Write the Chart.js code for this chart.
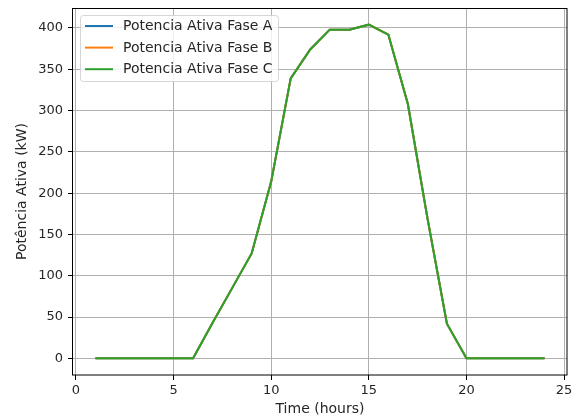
<!DOCTYPE html>
<html>
<head>
<meta charset="utf-8">
<script src="https://cdn.jsdelivr.net/npm/chart.js@4"></script>
<style>
	html, body { margin: 0; padding: 0; background: #fff; }
	.graph { width: 577px; height: 419px; }
</style>
</head>
<body>
<div class="graph"><canvas id="potenciaChart" width="577" height="419"></canvas></div>
<script>
// hours of the day
const hours = [1, 2, 3, 4, 5, 6, 7, 8, 9, 10, 11, 12, 13, 14, 15, 16, 17, 18, 19, 20, 21, 22, 23, 24];

// active power per phase (kW)
const faseA = [0, 0, 0, 0, 0, 0, 43, 85, 127, 214, 339, 374, 398, 398, 404, 392, 308, 170, 42, 0, 0, 0, 0, 0];
const faseB = [0, 0, 0, 0, 0, 0, 43, 85, 127, 214, 339, 374, 398, 398, 404, 392, 308, 170, 42, 0, 0, 0, 0, 0];
const faseC = [0, 0, 0, 0, 0, 0, 43, 85, 127, 214, 339, 374, 398, 398, 404, 392, 308, 170, 42, 0, 0, 0, 0, 0];

const seriesLabels = ['Potencia Ativa Fase A', 'Potencia Ativa Fase B', 'Potencia Ativa Fase C'];
const xTicks = [0, 5, 10, 15, 20, 25];
const yTicks = [0, 50, 100, 150, 200, 250, 300, 350, 400];

const colors = ['#1f77b4', '#ff7f0e', '#2ca02c'];
const fontFamily = "'DejaVu Sans', sans-serif";

function toPoints(values) {
	return hours.map(function (h, i) {
		return { x: h, y: values[i] };
	});
}

// box around the plot + legend inside it (matplotlib look)
const frameAndLegend = {
	id: 'frameAndLegend',
	afterDatasetsDraw: function (chart) {
		const c = chart.ctx;
		const a = chart.chartArea;
		c.save();
		c.strokeStyle = '#000';
		c.lineWidth = 1;
		c.strokeRect(Math.round(a.left) - 0.5, Math.round(a.top) + 0.5, Math.round(a.right - a.left) + 0.5, Math.round(a.bottom - a.top) - 0.5);

		// legend box
		const bx = 80.5, by = 15.5, bw = 198, bh = 66, r = 3;
		c.beginPath();
		c.moveTo(bx + r, by);
		c.arcTo(bx + bw, by, bx + bw, by + bh, r);
		c.arcTo(bx + bw, by + bh, bx, by + bh, r);
		c.arcTo(bx, by + bh, bx, by, r);
		c.arcTo(bx, by, bx + bw, by, r);
		c.closePath();
		c.fillStyle = 'rgba(255,255,255,0.8)';
		c.fill();
		c.strokeStyle = 'rgba(204,204,204,0.8)';
		c.stroke();

		c.font = '14px ' + fontFamily;
		c.textBaseline = 'middle';
		c.textAlign = 'left';
		chart.data.datasets.forEach(function (ds, i) {
			const y = 26 + i * 21.6;
			c.strokeStyle = ds.borderColor;
			c.lineWidth = 2;
			c.beginPath();
			c.moveTo(85, y);
			c.lineTo(113, y);
			c.stroke();
			c.fillStyle = '#262626';
			c.fillText(ds.label, 123, y + 0.5);
		});
		c.restore();
	}
};

var ctx = document.getElementById('potenciaChart').getContext('2d');

var potenciaChart = new Chart(ctx, {
	type: 'line',
	data: {
		datasets: [
			{ label: seriesLabels[0], data: toPoints(faseA), borderColor: colors[0], order: 3 },
			{ label: seriesLabels[1], data: toPoints(faseB), borderColor: colors[1], order: 2 },
			{ label: seriesLabels[2], data: toPoints(faseC), borderColor: colors[2], order: 1 },
		],
	},
	options: {
		responsive: false,
		animation: false,
		events: [],
		layout: { padding: { top: 8, right: 10, left: 0, bottom: 0 } },
		elements: {
			line: { borderWidth: 2, tension: 0, fill: false },
			point: { radius: 0 },
		},
		plugins: {
			legend: { display: false },
			tooltip: { enabled: false },
		},
		scales: {
			x: {
				type: 'linear',
				min: -0.15,
				max: 25.15,
				afterBuildTicks: function (axis) {
					axis.ticks = xTicks.map(function (v) { return { value: v }; });
				},
				afterFit: function (axis) {
					axis.height = 44;
					axis.paddingLeft = 0;
					axis.paddingRight = 0;
				},
				grid: { color: '#b0b0b0', tickColor: '#000', tickLength: 5, lineWidth: 1 },
				border: { display: false },
				ticks: { color: '#262626', font: { family: fontFamily, size: 13 }, padding: 3, maxRotation: 0 },
				title: { display: true, text: 'Time (hours)', color: '#262626', font: { family: fontFamily, size: 14 }, padding: { top: 0, bottom: 1 } },
			},
			y: {
				min: -20.2,
				max: 424.2,
				afterBuildTicks: function (axis) {
					axis.ticks = yTicks.map(function (v) { return { value: v }; });
				},
				afterFit: function (axis) {
					axis.width = 73;
					axis.paddingTop = 0;
					axis.paddingBottom = 0;
				},
				grid: { color: '#b0b0b0', tickColor: '#000', tickLength: 5, lineWidth: 1 },
				border: { display: false },
				ticks: { color: '#262626', font: { family: fontFamily, size: 13 }, padding: 5 },
				title: { display: true, text: 'Potência Ativa (kW)', color: '#262626', font: { family: fontFamily, size: 14 }, padding: { top: 14, bottom: 0 } },
			},
		},
	},
	plugins: [frameAndLegend],
});
</script>
</body>
</html>
